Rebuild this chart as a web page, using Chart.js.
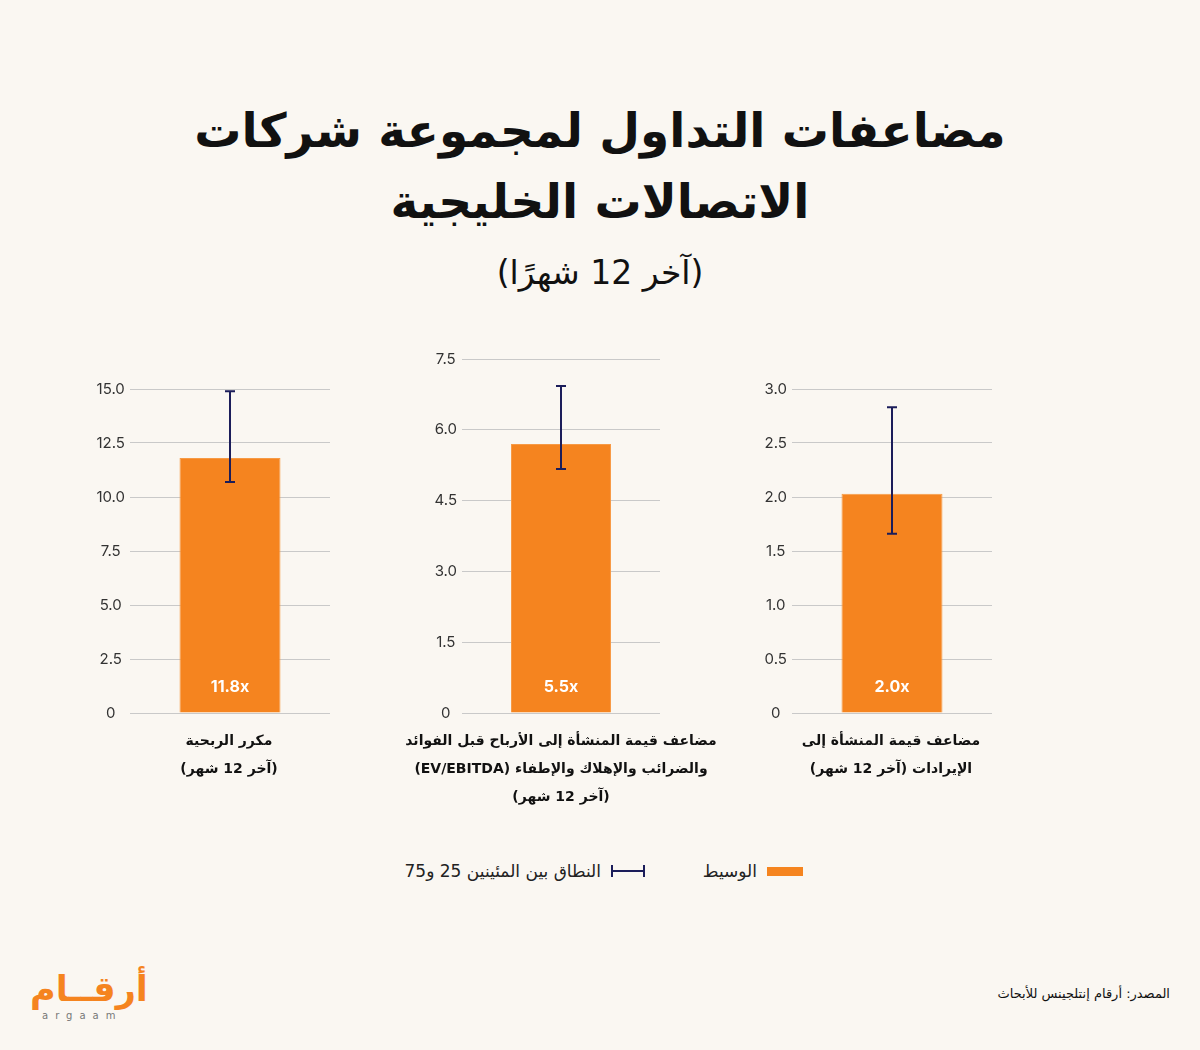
<!DOCTYPE html>
<html lang="ar" dir="rtl">
<head>
<meta charset="utf-8">
<script src="https://cdn.jsdelivr.net/npm/chart.js@4.4.1/dist/chart.umd.min.js"></script>
<style>
  html, body { margin: 0; padding: 0; }
  body {
    width: 1200px; height: 1050px; position: relative; overflow: hidden;
    background: #faf7f2; font-family: "DejaVu Sans", sans-serif; color: #111;
  }
  .title {
    position: absolute; left: 0; width: 1200px; top: 95px; text-align: center;
    font-weight: bold; font-size: 47px; line-height: 71px; margin: 0;
  }
  .subtitle {
    position: absolute; left: 0; width: 1200px; top: 253px; text-align: center;
    font-size: 33px;
  }
  .box { position: absolute; }
  .cat {
    position: absolute; width: 360px; text-align: center;
    font-weight: bold; font-size: 14px; line-height: 28px;
  }
  .legend {
    position: absolute; top: 861px; font-size: 17px; color: #222;
    display: flex; align-items: center;
  }
  .swatch { width: 36px; height: 9px; background: #f5841f; margin-left: 10px; }
  .range { width: 34px; height: 2px; background: #1b1d5a; margin-left: 10px; position: relative; }
  .range:before, .range:after {
    content: ""; position: absolute; top: -5px; width: 2px; height: 12px; background: #1b1d5a;
  }
  .range:before { left: 0; } .range:after { right: 0; }
  .source { position: absolute; right: 30px; top: 986px; font-size: 13px; }
  .logo { position: absolute; left: 30px; top: 966px; direction: rtl; text-align: left; }
  .logo .ar { color: #f5841f; font-weight: bold; font-size: 35px; line-height: 46px; }
  .logo .en { color: #777; font-size: 10px; letter-spacing: 7px; direction: ltr; margin-top: -2px; margin-left: 12px; }
</style>
</head>
<body>
<h1 class="title">مضاعفات التداول لمجموعة شركات<br>الاتصالات الخليجية</h1>
<div class="subtitle">(آخر 12 شهرًا)</div>

<div class="box" style="left:80px; top:375px; width:260px; height:352px;"><canvas id="c0"></canvas></div>
<div class="box" style="left:412px; top:345px; width:258px; height:382px;"><canvas id="c1"></canvas></div>
<div class="box" style="left:742px; top:375px; width:260px; height:352px;"><canvas id="c2"></canvas></div>

<div class="cat" id="l0" style="left:49px; top:726px;"></div>
<div class="cat" id="l1" style="left:381px; top:726px;"></div>
<div class="cat" id="l2" style="left:711px; top:726px;"></div>

<div class="legend" style="right:397px;"><div class="swatch"></div><span>الوسيط</span></div>
<div class="legend" style="right:555px;"><div class="range"></div><span>النطاق بين المئينين 25 و75</span></div>

<div class="source">المصدر: أرقام إنتلجينس للأبحاث</div>
<div class="logo"><div class="ar">أرقــام</div><div class="en">argaam</div></div>

<script>
// chart order on the page, left to right
const categories = [
  ["مكرر الربحية", "(آخر 12 شهر)"],
  ["مضاعف قيمة المنشأة إلى الأرباح قبل الفوائد", "والضرائب والإهلاك والإطفاء (EV/EBITDA)", "(آخر 12 شهر)"],
  ["مضاعف قيمة المنشأة إلى", "الإيرادات (آخر 12 شهر)"],
];
const medians = [11.8, 5.7, 2.03];
const p25 = [10.7, 5.17, 1.66];
const p75 = [14.9, 6.93, 2.83];
const valueLabels = ["11.8x", "5.5x", "2.0x"];
const axisMax = [15, 7.5, 3];
const axisStep = [2.5, 1.5, 0.5];

const ORANGE = "#f5841f";
const NAVY = "#1b1d5a";

// whiskers for the 25th-75th percentile range + the value label in the bar
const rangePlugin = {
  id: "rangeBars",
  afterDatasetsDraw(chart) {
    const ctx = chart.ctx;
    const y = chart.scales.y;
    const i = chart.options.plugins.rangeBars.index;
    chart.getDatasetMeta(0).data.forEach((bar) => {
      // value label
      ctx.save();
      ctx.fillStyle = "#fff";
      ctx.font = "bold 16px Inter, 'DejaVu Sans', sans-serif";
      ctx.textAlign = "center";
      ctx.textBaseline = "middle";
      ctx.fillText(valueLabels[i], bar.x, y.getPixelForValue(0) - 26);
      // error bar
      const top = y.getPixelForValue(p75[i]);
      const bot = y.getPixelForValue(p25[i]);
      ctx.strokeStyle = NAVY;
      ctx.lineWidth = 2;
      ctx.beginPath();
      ctx.moveTo(bar.x, top); ctx.lineTo(bar.x, bot);
      ctx.moveTo(bar.x - 5, top); ctx.lineTo(bar.x + 5, top);
      ctx.moveTo(bar.x - 5, bot); ctx.lineTo(bar.x + 5, bot);
      ctx.stroke();
      ctx.restore();
    });
  },
};

categories.forEach((cat, i) => {
  document.getElementById("l" + i).innerHTML = cat.join("<br>");

  new Chart(document.getElementById("c" + i), {
    type: "bar",
    data: {
      labels: [cat.join(" ")],
      datasets: [{
        data: [medians[i]],
        backgroundColor: ORANGE,
        borderColor: "#f79a45",
        borderWidth: 1,
        barPercentage: 0.505,
        categoryPercentage: 1,
      }],
    },
    options: {
      responsive: true,
      maintainAspectRatio: false,
      animation: false,
      layout: { padding: { top: 10, right: 10, bottom: 0, left: 0 } },
      plugins: {
        legend: { display: false },
        tooltip: { enabled: false },
        rangeBars: { index: i },
      },
      scales: {
        x: { display: false },
        y: {
          min: 0,
          max: axisMax[i],
          afterFit(scale) { scale.width = 50; },
          border: { display: false },
          grid: { color: "#c9c9c9", drawTicks: false },
          ticks: {
            stepSize: axisStep[i],
            padding: 5,
            crossAlign: "center",
            color: "#333",
            font: { family: "Inter, 'DejaVu Sans', sans-serif", size: 15 },
            callback: (v) => (v === 0 ? "0" : v.toFixed(1)),
          },
        },
      },
    },
    plugins: [rangePlugin],
  });
});
</script>
</body>
</html>
